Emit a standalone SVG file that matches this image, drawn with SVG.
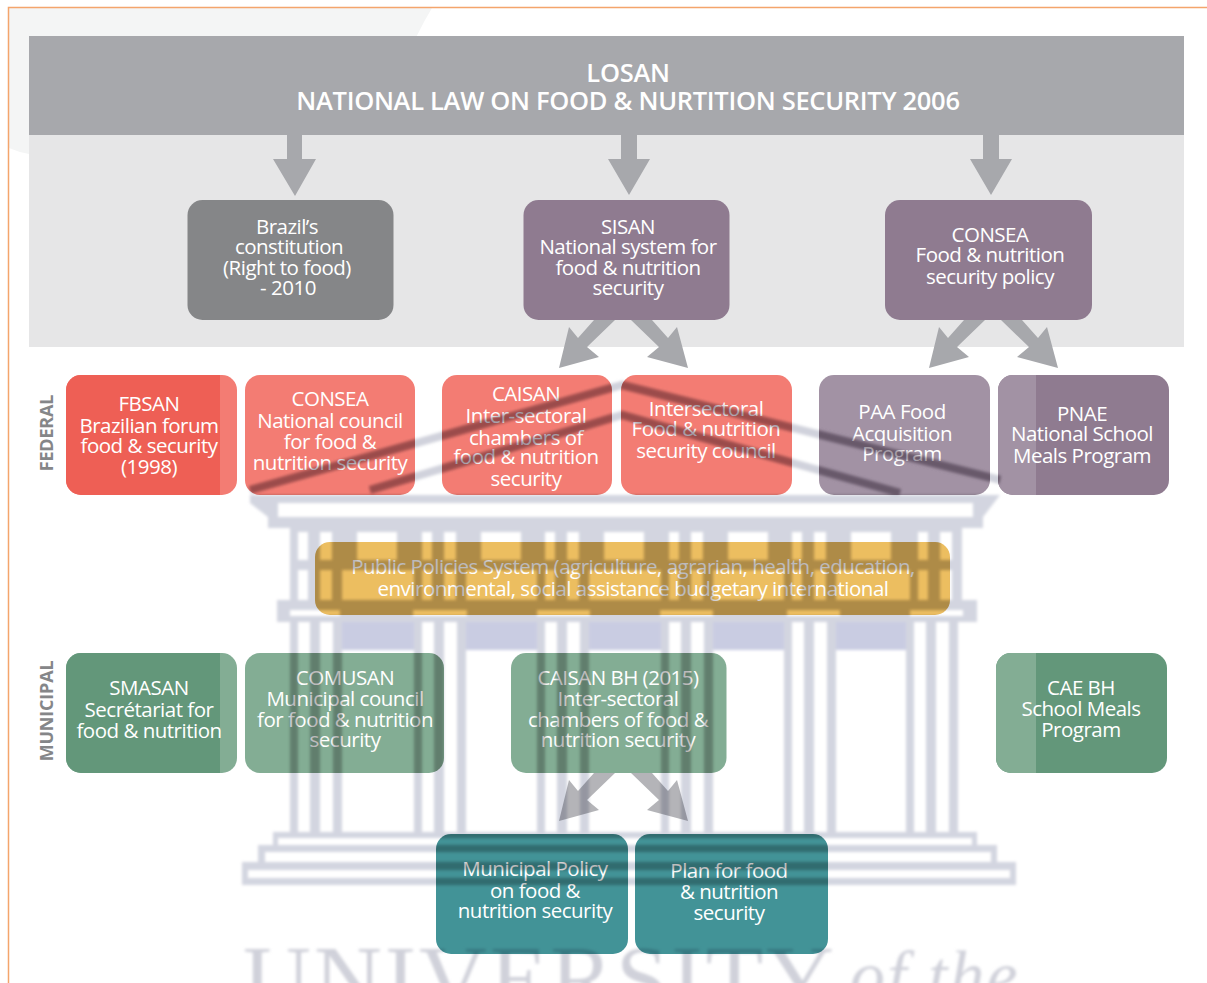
<svg xmlns="http://www.w3.org/2000/svg" width="1207" height="983" viewBox="0 0 1207 983">
<style>
text{font-family:"Open Sans","Liberation Sans",sans-serif}
.t{font-size:20.500px;fill:#fff;text-anchor:middle;letter-spacing:-.5px}
.h{font-size:25.500px;font-weight:600;fill:#fff;text-anchor:middle;letter-spacing:-.3px}
.s{font-size:18px;font-weight:700;fill:#858688;text-anchor:middle;letter-spacing:-.2px}
.a{fill:#a7a8ac}
.w{mix-blend-mode:multiply}
.wm{font-family:"Liberation Serif",serif;fill:#d0d1da}
</style>
<defs>
<filter id="soft" x="-5%" y="-5%" width="110%" height="110%"><feGaussianBlur stdDeviation="1.500"/></filter>
<polygon id="dr" points="631,320 652,320 668,338 677,327 688,368 647,357 659,347"/>
<polygon id="dl" points="615,320 594,320 578,338 569,327 559,368 599,357 587,347"/>
<g id="colU"><rect width="8" height="30"/><rect x="18" width="12" height="30"/><rect x="42" width="10" height="30"/></g>
<g id="colL"><rect width="8" height="210"/><rect x="20" width="10" height="210"/><rect x="43" width="9" height="210"/></g>
<g id="stripes" fill="none" stroke-width="8">
<path d="M250 490L622 385L1000 480"/>
<path d="M370 490L622 415L900 493"/>
</g>
<g id="temple">
<path d="M250 495H1000L983 517V528H268V517H278V503H973V517H278L268 517L250 503Z" fill-rule="evenodd"/>
<path fill-rule="evenodd" d="M290 528H962V570H290ZM298 532H308V560H298ZM320 532H332V560H320ZM357 532H397V560H357ZM422 532H432V560H422ZM444 532H456V560H444ZM481 532H521V560H481ZM545 532H555V560H545ZM567 532H579V560H567ZM604 532H644V560H604ZM669 532H679V560H669ZM691 532H703V560H691ZM728 532H768V560H728ZM792 532H802V560H792ZM814 532H826V560H814ZM851 532H891V560H851ZM918 532H928V560H918ZM940 532H952V560H940Z"/>
<use href="#colU" x="290" y="570"/><use href="#colU" x="414" y="570"/><use href="#colU" x="537" y="570"/><use href="#colU" x="661" y="570"/><use href="#colU" x="784" y="570"/><use href="#colU" x="910" y="570"/>
<path fill-rule="evenodd" d="M277 600H977V622H277ZM290 610H340V616H290ZM413 610H467V616H413ZM537 610H590V616H537ZM660 610H713V616H660ZM787 610H840V616H787ZM910 610H963V616H910Z"/>
<path d="M342 622H414V650H342ZM466 622H537V650H466ZM589 622H661V650H589ZM713 622H784V650H713ZM836 622H910V650H836Z" fill="#c9cce2"/>
<use href="#colL" x="290" y="622"/><use href="#colL" x="414" y="622"/><use href="#colL" x="537" y="622"/><use href="#colL" x="661" y="622"/><use href="#colL" x="784" y="622"/><use href="#colL" x="906" y="622"/>
<path fill-rule="evenodd" d="M273 832H977V845H997V862H1016V885H242V862H258V845H273ZM278 838V845H972V838ZM265 852V862H991V852ZM248 870V878H1010V870Z"/>
</g>
<clipPath id="boxes">
<rect x="245" y="375" width="170" height="120" rx="15"/><rect x="442" y="375" width="170" height="120" rx="15"/><rect x="621" y="375" width="171" height="120" rx="15"/><rect x="819" y="375" width="171" height="120" rx="15"/><rect x="998" y="375" width="171" height="120" rx="15"/>
<rect x="315" y="542" width="635" height="73" rx="15"/><rect x="245" y="653" width="199" height="120" rx="15"/><rect x="511" y="653" width="215.500" height="120" rx="15"/><rect x="436" y="834" width="192" height="120" rx="15"/><rect x="635" y="834" width="193" height="120" rx="15"/>
</clipPath>
</defs>
<rect width="1207" height="983" fill="#fff"/>
<path d="M9 8H432Q400 60 385 135H29V154Q18 152 9 148Z" fill="#f4f5f5"/>
<path d="M8.500 983V7.500H1207" fill="none" stroke="#f4a56c" stroke-width="1.500"/>
<rect id="band-lower" x="29" y="135" width="1155" height="212" fill="#e6e6e7"/>
<g id="losan"><rect x="29" y="36" width="1155" height="99" fill="#a7a8ac"/>
<text class="h"><tspan x="628" y="81.500">LOSAN</tspan><tspan x="628" y="109.500">NATIONAL LAW ON FOOD &amp; NURTITION SECURITY 2006</tspan></text></g>
<g id="connectors" class="a">
<polygon points="287,135 302,135 302,159 316,159 295,196 273,159 287,159"/>
<polygon points="621,135 637,135 637,159 650,159 629,195 608,159 621,159"/>
<polygon points="983,135 999,135 999,159 1012,159 991,195 970,159 983,159"/>
<use href="#dl"/><use href="#dr"/>
<use href="#dl" x="370"/><use href="#dr" x="370"/>
<g opacity=".85"><use href="#dl" y="453"/><use href="#dr" y="453"/></g>
</g>
<g id="brazil"><rect x="187.500" y="200" width="206" height="120" rx="15" fill="#858688"/>
<text class="t"><tspan x="287" y="234">Brazil’s</tspan><tspan x="289" y="254">constitution</tspan><tspan x="287" y="275">(Right to food)</tspan><tspan x="288" y="295">- 2010</tspan></text></g>
<g id="sisan"><rect x="523.500" y="200" width="206" height="120" rx="15" fill="#8f7b90"/>
<text class="t"><tspan x="628" y="234">SISAN</tspan><tspan x="628" y="254">National system for</tspan><tspan x="628" y="275">food &amp; nutrition</tspan><tspan x="628" y="295">security</tspan></text></g>
<g id="consea-policy"><rect x="885" y="200" width="207" height="120" rx="15" fill="#8f7b90"/>
<text class="t"><tspan x="990" y="242">CONSEA</tspan><tspan x="990" y="262">Food &amp; nutrition</tspan><tspan x="990" y="284">security policy</tspan></text></g>
<text class="s" transform="translate(53 433) rotate(-90)">FEDERAL</text>
<text class="s" transform="translate(53 711) rotate(-90)">MUNICIPAL</text>
<g id="fbsan"><rect x="66" y="375" width="171" height="120" rx="15" fill="#f37c73"/><path d="M220 375H81a15 15 0 0 0-15 15v90a15 15 0 0 0 15 15H220Z" fill="#ee5f55"/>
<text class="t"><tspan x="149" y="411">FBSAN</tspan><tspan x="149" y="433">Brazilian forum</tspan><tspan x="149" y="453">food &amp; security</tspan><tspan x="149" y="474">(1998)</tspan></text></g>
<g id="consea"><rect x="245" y="375" width="170" height="120" rx="15" fill="#f37c73"/>
<text class="t"><tspan x="330" y="406">CONSEA</tspan><tspan x="330" y="428">National council</tspan><tspan x="330" y="449">for food &amp;</tspan><tspan x="330" y="470">nutrition security</tspan></text></g>
<g id="caisan"><rect x="442" y="375" width="170" height="120" rx="15" fill="#f37c73"/>
<text class="t"><tspan x="526" y="401">CAISAN</tspan><tspan x="526" y="423">Inter-sectoral</tspan><tspan x="526" y="445">chambers of</tspan><tspan x="526" y="464">food &amp; nutrition</tspan><tspan x="526" y="486">security</tspan></text></g>
<g id="intersectoral"><rect x="621" y="375" width="171" height="120" rx="15" fill="#f37c73"/>
<text class="t"><tspan x="706" y="416">Intersectoral</tspan><tspan x="706" y="436">Food &amp; nutrition</tspan><tspan x="706" y="458">security council</tspan></text></g>
<g id="paa"><rect x="819" y="375" width="171" height="120" rx="15" fill="#a292a4"/>
<text class="t"><tspan x="902" y="419">PAA Food</tspan><tspan x="902" y="441">Acquisition</tspan><tspan x="902" y="461">Program</tspan></text></g>
<g id="pnae"><rect x="998" y="375" width="171" height="120" rx="15" fill="#8f7b90"/><path d="M1036 375H1013a15 15 0 0 0-15 15v90a15 15 0 0 0 15 15H1036Z" fill="#a292a4"/>
<text class="t"><tspan x="1082" y="421">PNAE</tspan><tspan x="1082" y="441">National School</tspan><tspan x="1082" y="463">Meals Program</tspan></text></g>
<g id="public-policies"><rect x="315" y="542" width="635" height="73" rx="15" fill="#ecbe60"/>
<text class="t"><tspan x="633" y="574">Public Policies System (agriculture, agrarian, health, education,</tspan><tspan x="633" y="596">environmental, social assistance budgetary international</tspan></text></g>
<g id="smasan"><rect x="66" y="653" width="171" height="120" rx="15" fill="#83ad94"/><path d="M220 653H81a15 15 0 0 0-15 15v90a15 15 0 0 0 15 15H220Z" fill="#63977a"/>
<text class="t"><tspan x="149" y="695">SMASAN</tspan><tspan x="149" y="717">Secrétariat for</tspan><tspan x="149" y="738">food &amp; nutrition</tspan></text></g>
<g id="comusan"><rect x="245" y="653" width="199" height="120" rx="15" fill="#83ad94"/>
<text class="t"><tspan x="345" y="685">COMUSAN</tspan><tspan x="345" y="706">Municipal council</tspan><tspan x="345" y="727">for food &amp; nutrition</tspan><tspan x="345" y="747">security</tspan></text></g>
<g id="caisan-bh"><rect x="511" y="653" width="215.500" height="120" rx="15" fill="#83ad94"/>
<text class="t"><tspan x="618" y="685">CAISAN BH (2015)</tspan><tspan x="618" y="706">Inter-sectoral</tspan><tspan x="618" y="727">chambers of food &amp;</tspan><tspan x="618" y="747">nutrition security</tspan></text></g>
<g id="cae-bh"><rect x="996" y="653" width="171" height="120" rx="15" fill="#63977a"/><path d="M1036 653H1011a15 15 0 0 0-15 15v90a15 15 0 0 0 15 15H1036Z" fill="#83ad94"/>
<text class="t"><tspan x="1081" y="695">CAE BH</tspan><tspan x="1081" y="716">School Meals</tspan><tspan x="1081" y="737">Program</tspan></text></g>
<g id="municipal-policy"><rect x="436" y="834" width="192" height="120" rx="15" fill="#429397"/>
<text class="t"><tspan x="535" y="876">Municipal Policy</tspan><tspan x="535" y="898">on food &amp;</tspan><tspan x="535" y="918">nutrition security</tspan></text></g>
<g id="plan"><rect x="635" y="834" width="193" height="120" rx="15" fill="#429397"/>
<text class="t"><tspan x="729" y="878">Plan for food</tspan><tspan x="729" y="899">&amp; nutrition</tspan><tspan x="729" y="920">security</tspan></text></g>
<g id="watermark">
<g class="w" filter="url(#soft)"><use href="#temple" fill="#d3d5e0"/><use href="#stripes" stroke="#d0d2dc"/></g>
<g class="w" clip-path="url(#boxes)"><g filter="url(#soft)"><use href="#temple" fill="#e4dfd6"/><use href="#stripes" stroke="#c8bcc0"/></g></g>
<g class="w" filter="url(#soft)">
<text class="wm" x="243" y="1010" font-size="94" letter-spacing="3">UNIVERSITY</text>
<text class="wm" x="850" y="999" font-size="70" font-style="italic" letter-spacing="2">of the</text>
</g>
</g>
</svg>
